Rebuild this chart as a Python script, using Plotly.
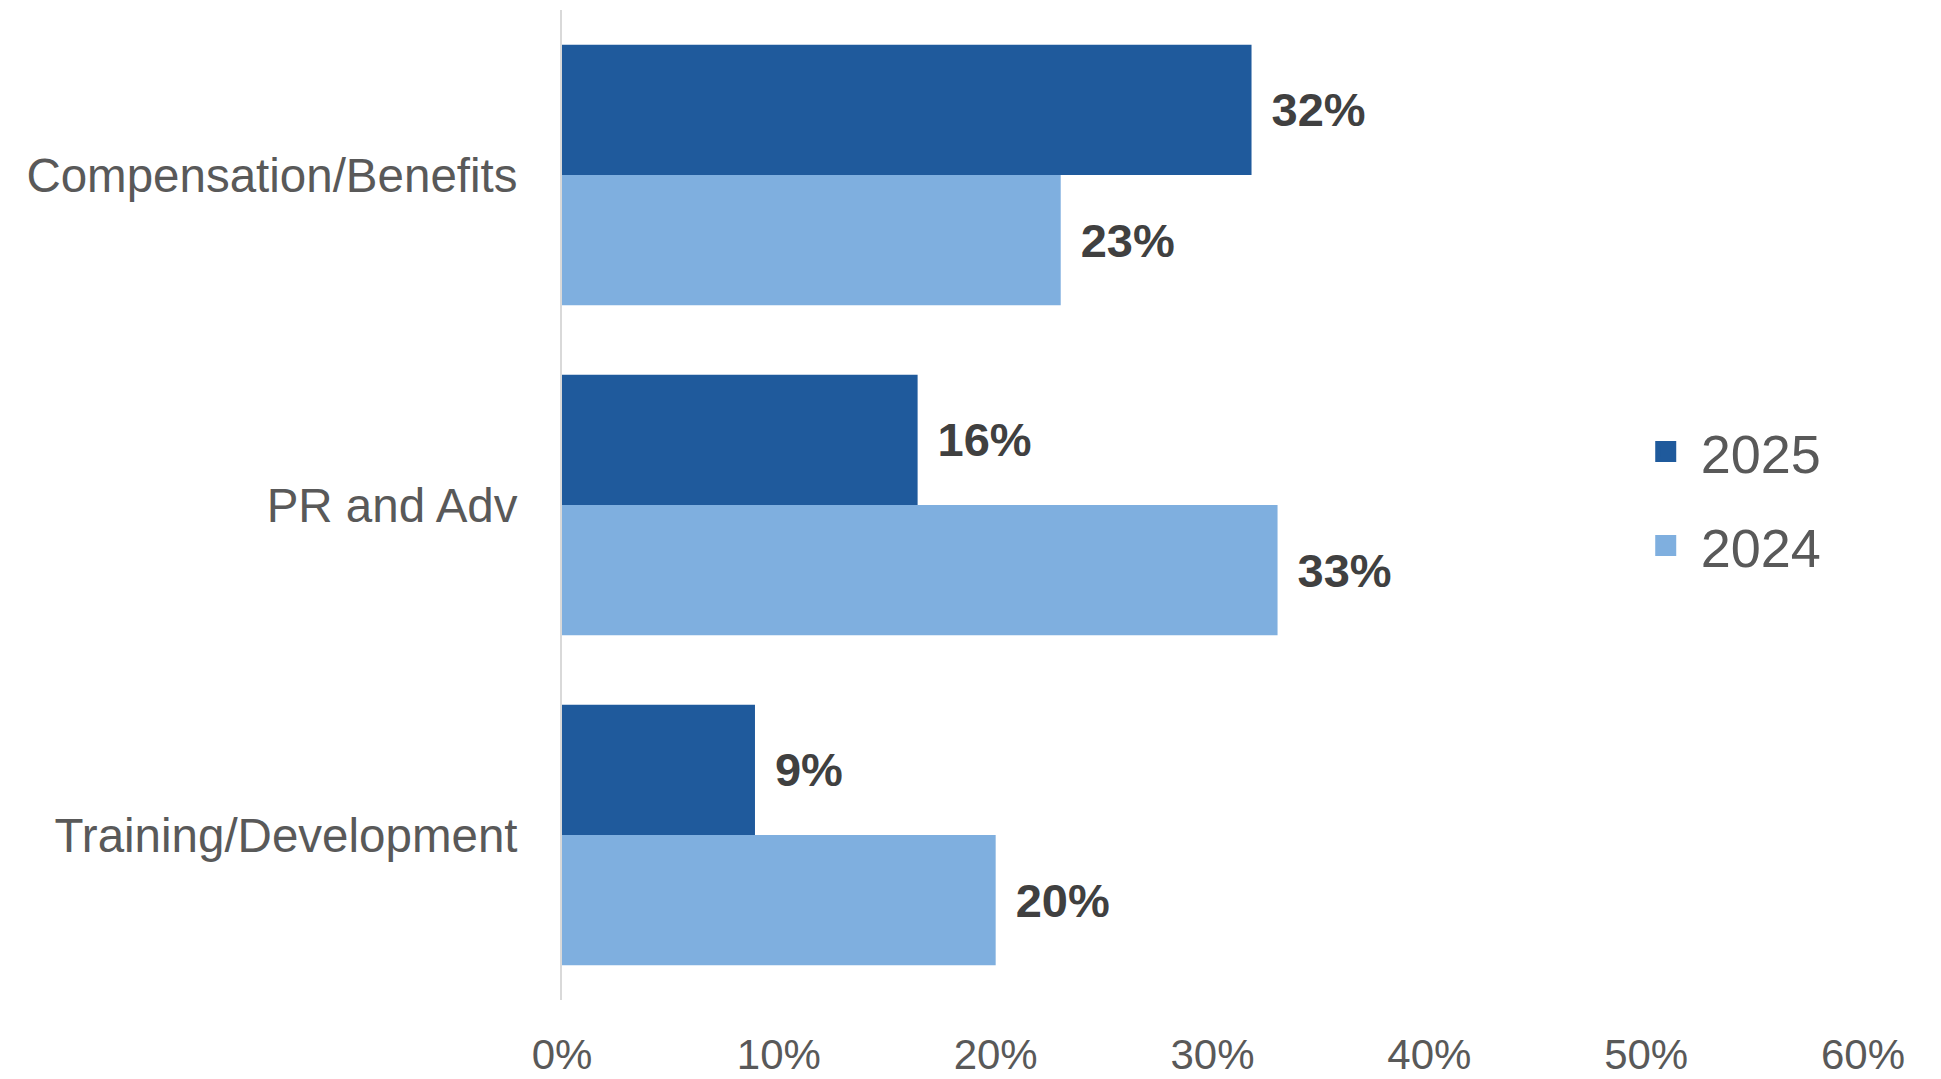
import plotly.graph_objects as go

categories = ["Compensation/Benefits", "PR and Adv", "Training/Development"]
values_2025 = [0.318, 0.164, 0.089]
values_2024 = [0.230, 0.330, 0.200]
series_names = ["2025", "2024"]
colors = ["#1f5a9c", "#7fafdf"]

FONT = "Liberation Sans, Arial, sans-serif"

fig = go.Figure()
for name, vals, col in zip(series_names, [values_2025, values_2024], colors):
    fig.add_trace(go.Bar(
        y=categories, x=vals, orientation="h", name=name,
        marker=dict(color=col, line=dict(width=0)),
        text=[f"\u00a0\u200a{round(v*100):.0f}%" for v in vals],
        textposition="outside", constraintext="none", cliponaxis=False,
        textfont=dict(family=FONT, size=47, color="#404040", weight="bold"),
        showlegend=False,
    ))

# legend entries (two separate legends for exact placement)
for i, (name, col) in enumerate(zip(series_names, colors)):
    fig.add_trace(go.Scatter(
        x=[None], y=[None], mode="markers", name="\u00a0" + name,
        marker=dict(symbol="square", size=16, color=col, line=dict(color=col, width=5)),
        legend="legend" if i == 0 else "legend2",
        showlegend=True,
    ))

legend_common = dict(font=dict(family=FONT, size=54, color="#595959"),
                     bgcolor="rgba(0,0,0,0)", itemwidth=30,
                     xanchor="left", yanchor="middle")

fig.update_layout(
    width=1941, height=1079,
    margin=dict(l=562, r=78, t=10, b=79),
    paper_bgcolor="white", plot_bgcolor="white",
    barmode="group", bargap=0.21, bargroupgap=0,
    font=dict(family=FONT, color="#595959"),
    legend=dict(x=0.833, y=(1079 - 452 - 79) / 990, **legend_common),
    legend2=dict(x=0.833, y=(1079 - 546 - 79) / 990, **legend_common),
    xaxis=dict(range=[0, 0.6], dtick=0.1, tickformat=".0%", showgrid=False,
               zeroline=False, showline=False, ticks="", automargin=False,
               tickfont=dict(family=FONT, size=42, color="#595959"),
               ticklabelstandoff=26, fixedrange=True),
    yaxis=dict(categoryorder="array", categoryarray=categories, autorange="reversed",
               showline=True, linecolor="#d9d9d9", linewidth=2, showgrid=False,
               ticks="", automargin=False,
               tickfont=dict(family=FONT, size=47.5, color="#595959"),
               ticklabelstandoff=33, fixedrange=True),
)

fig.write_html("out.html")
